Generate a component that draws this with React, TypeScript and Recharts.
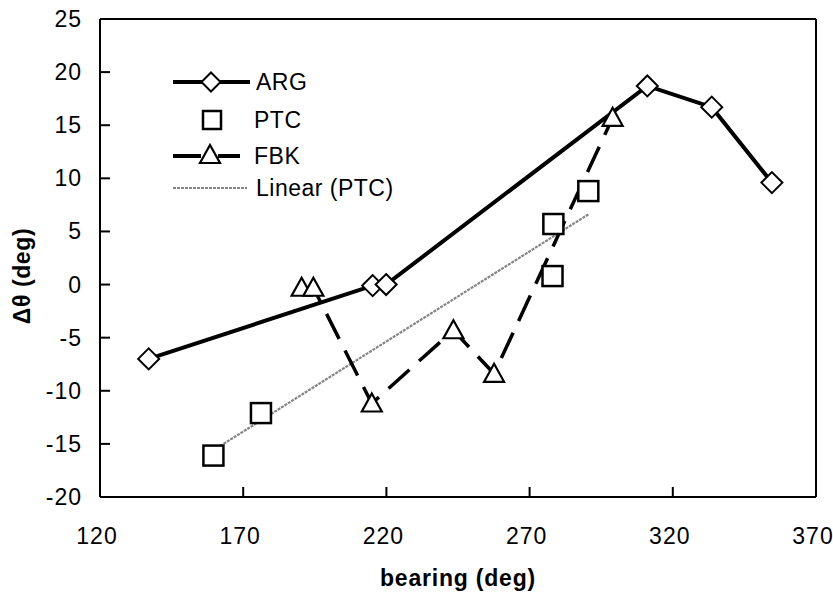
import React from 'react';
import { ScatterChart, Scatter, XAxis, YAxis, ReferenceLine } from 'recharts';

// bearing (deg) / delta theta (deg)
const argBearing = [137.0, 215.2, 219.9, 311.1, 333.6, 354.6];
const argDelta = [-7.0, -0.1, 0.0, 18.7, 16.7, 9.6];

const ptcBearing = [159.6, 176.2, 278.0, 278.3, 290.5];
const ptcDelta = [-16.1, -12.1, 0.8, 5.7, 8.8];

const fbkBearing = [190.4, 194.5, 214.9, 243.4, 257.6, 299.0];
const fbkDelta = [-0.3, -0.3, -11.2, -4.3, -8.4, 15.7];

// ends of the Linear (PTC) trend line
const trendBearing = [159.6, 290.5];
const trendDelta = [-15.6, 6.6];

const xTicks = [120, 170, 220, 270, 320, 370];
const yTicks = [-20, -15, -10, -5, 0, 5, 10, 15, 20, 25];

const toPoints = (xs: number[], ys: number[]) => xs.map((x, i) => ({ x, y: ys[i] }));

const argData = toPoints(argBearing, argDelta);
const ptcData = toPoints(ptcBearing, ptcDelta);
const fbkData = toPoints(fbkBearing, fbkDelta);
const trendData = toPoints(trendBearing, trendDelta);

const FONT = '"Liberation Sans", Arial, Helvetica, sans-serif';
const TREND = '#858585';
const FBK_DASH = '28 13';

const diamond = (cx: number, cy: number, r: number) =>
    `${cx},${cy - r} ${cx + r},${cy} ${cx},${cy + r} ${cx - r},${cy}`;

const triangle = (cx: number, cy: number) =>
    `${cx},${cy - 10} ${cx + 10},${cy + 8} ${cx - 10},${cy + 8}`;

const DiamondShape = (props: any) => (
    <polygon points={diamond(props.cx, props.cy, 10.5)} fill="#fff" stroke="#000" strokeWidth={2} />
);

const SquareShape = (props: any) => (
    <rect x={props.cx - 10} y={props.cy - 10} width={20} height={20} fill="#fff" stroke="#000" strokeWidth={2.5} />
);

const TriangleShape = (props: any) => (
    <polygon points={triangle(props.cx, props.cy)} fill="#fff" stroke="#000" strokeWidth={2.2} />
);

const NoShape = () => <g />;

const XTick = (props: any) => {
    const { x, y, payload } = props;
    return (
        <g>
            <line x1={x} y1={y} x2={x} y2={y - 10} stroke="#000" strokeWidth={2} />
            <text x={x - 3} y={y + 47} textAnchor="middle" fontSize={23} letterSpacing={1} fontFamily={FONT} fill="#000">
                {payload.value}
            </text>
        </g>
    );
};

const YTick = (props: any) => {
    const { x, y, payload } = props;
    return (
        <g>
            <line x1={x} y1={y} x2={x + 10} y2={y} stroke="#000" strokeWidth={2} />
            <text x={x - 18} y={y + 8} textAnchor="end" fontSize={23} letterSpacing={1} fontFamily={FONT} fill="#000">
                {payload.value}
            </text>
        </g>
    );
};

const LegendBox = () => (
    <svg width={833} height={594} style={{ position: 'absolute', left: 0, top: 0, pointerEvents: 'none' }}>
        <g fontFamily={FONT} fontSize={23} letterSpacing={0.5} fill="#000">
            <line x1={173} y1={82} x2={250} y2={82} stroke="#000" strokeWidth={4} />
            <polygon points={diamond(211, 82, 9.5)} fill="#fff" stroke="#000" strokeWidth={2} />
            <text x={256} y={90}>ARG</text>

            <rect x={203} y={111} width={18} height={18} fill="#fff" stroke="#000" strokeWidth={2.5} />
            <text x={254} y={128}>PTC</text>

            <line x1={173} y1={156} x2={201} y2={156} stroke="#000" strokeWidth={4} />
            <line x1={218} y1={156} x2={240} y2={156} stroke="#000" strokeWidth={4} />
            <polygon points={triangle(210, 155)} fill="#fff" stroke="#000" strokeWidth={2.2} />
            <text x={254} y={164}>FBK</text>

            <line x1={173} y1={188} x2={247} y2={188} stroke={TREND} strokeWidth={2.2} strokeDasharray="3 1" />
            <text x={256} y={196}>Linear (PTC)</text>
        </g>
    </svg>
);

export default function App() {
    return (
        <div style={{ position: 'absolute', left: 0, top: 0, width: 833, height: 594, background: '#fff' }}>
            <ScatterChart width={833} height={594} margin={{ top: 19, right: 17, bottom: 0, left: 0 }}>
                <XAxis
                    type="number"
                    dataKey="x"
                    domain={[120, 370]}
                    ticks={xTicks}
                    interval={0}
                    height={97}
                    tickLine={false}
                    tickSize={0}
                    tickMargin={0}
                    tick={<XTick />}
                    axisLine={{ stroke: '#000', strokeWidth: 2 }}
                    allowDataOverflow
                    label={{
                        value: 'bearing (deg)',
                        position: 'insideBottom',
                        offset: 8,
                        style: { fontFamily: FONT, fontSize: 23, letterSpacing: 0.8, fontWeight: 'bold', fill: '#000' },
                    }}
                />
                <YAxis
                    type="number"
                    dataKey="y"
                    domain={[-20, 25]}
                    ticks={yTicks}
                    interval={0}
                    width={100}
                    tickLine={false}
                    tickSize={0}
                    tickMargin={0}
                    tick={<YTick />}
                    axisLine={{ stroke: '#000', strokeWidth: 2 }}
                    allowDataOverflow
                    label={{
                        value: 'Δθ (deg)',
                        angle: -90,
                        position: 'insideLeft',
                        offset: 22,
                        dy: 18,
                        style: { fontFamily: FONT, fontSize: 23, letterSpacing: 0.6, fontWeight: 'bold', fill: '#000', textAnchor: 'middle' },
                    }}
                />
                <ReferenceLine y={25} stroke="#000" strokeWidth={2} />
                <ReferenceLine x={370} stroke="#000" strokeWidth={2} />

                <Scatter
                    name="Linear (PTC)"
                    data={trendData}
                    line={{ stroke: TREND, strokeWidth: 2.2, strokeDasharray: '3 1' }}
                    shape={<NoShape />}
                    isAnimationActive={false}
                />
                <Scatter
                    name="ARG"
                    data={argData}
                    line={{ stroke: '#000', strokeWidth: 4 }}
                    shape={<DiamondShape />}
                    isAnimationActive={false}
                />
                <Scatter
                    name="FBK"
                    data={fbkData}
                    line={{ stroke: '#000', strokeWidth: 3.5, strokeDasharray: FBK_DASH }}
                    shape={<TriangleShape />}
                    isAnimationActive={false}
                />
                <Scatter name="PTC" data={ptcData} shape={<SquareShape />} isAnimationActive={false} />
            </ScatterChart>
            <LegendBox />
        </div>
    );
}
